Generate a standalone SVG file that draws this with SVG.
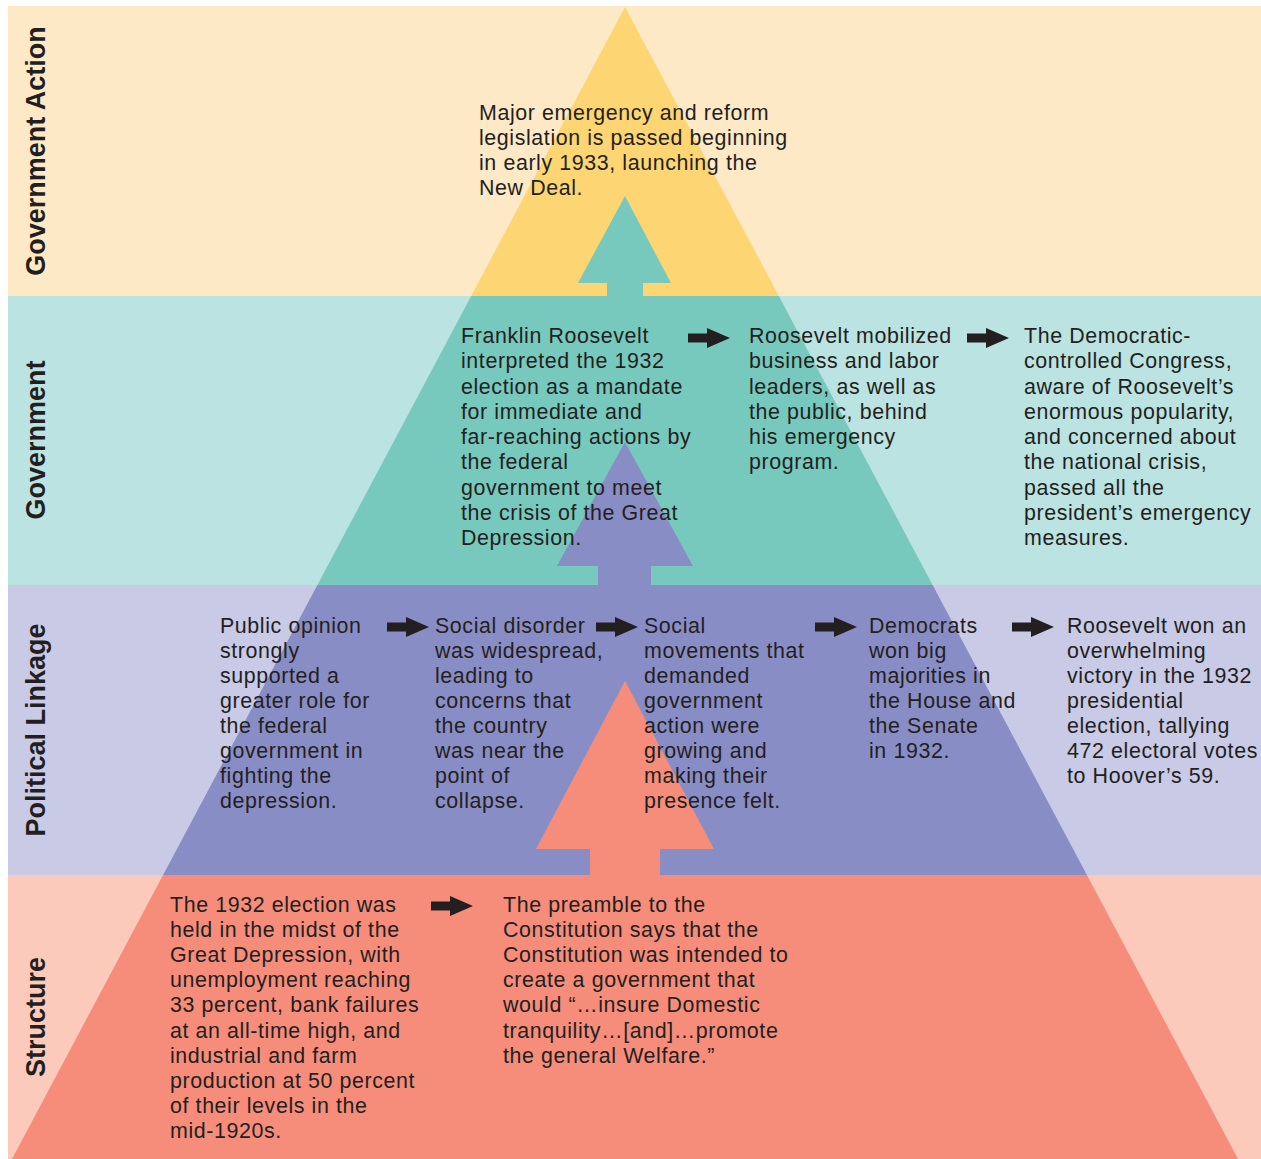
<svg xmlns="http://www.w3.org/2000/svg" width="1261" height="1159" viewBox="0 0 1261 1159">
  <style>
    .body { font-family: "Liberation Sans", Arial, sans-serif; font-size: 21.4px; letter-spacing: 0.6px; fill: #231F20; }
    .band-label { font-family: "Liberation Sans", Arial, sans-serif; font-size: 27px; font-weight: bold; fill: #231F20; text-anchor: middle; }
  </style>
  <defs>
    <!-- small black flow arrow, origin at its left-middle point -->
    <path id="flow-arrow" d="M0,-4.5 H19 V-10 L42,0 L19,10 V4.5 H0 Z" fill="#231F20"/>
  </defs>

  <rect x="0" y="0" width="1261" height="1159" fill="#FFFFFF"/>

  <!-- background bands -->
  <g id="bands">
    <rect x="8" y="6" width="1253" height="290" fill="#FDE9C6"/>
    <rect x="8" y="296" width="1253" height="289" fill="#BBE3E1"/>
    <rect x="8" y="585" width="1253" height="290" fill="#C8CAE6"/>
    <rect x="8" y="875" width="1253" height="284" fill="#FBCABB"/>
  </g>

  <!-- pyramid, one slice per band -->
  <g id="pyramid">
    <polygon points="625,7 778.8,296 471.2,296" fill="#FDD673"/>
    <polygon points="471.2,296 778.8,296 932.6,585 317.4,585" fill="#77C9BE"/>
    <polygon points="317.4,585 932.6,585 1086.9,875 163.1,875" fill="#898DC5"/>
    <polygon points="163.1,875 1086.9,875 1238,1159 12,1159" fill="#F68D7B"/>
  </g>

  <!-- band titles -->
  <g id="label-government-action"><text class="band-label" transform="translate(45,151) rotate(-90)">Government Action</text></g>
  <g id="label-government"><text class="band-label" transform="translate(45,440) rotate(-90)">Government</text></g>
  <g id="label-political-linkage"><text class="band-label" transform="translate(45,730) rotate(-90)">Political Linkage</text></g>
  <g id="label-structure"><text class="band-label" transform="translate(45,1017) rotate(-90)">Structure</text></g>

  <!-- connectors -->
  <g id="connectors">
    <!-- upward arrows between levels -->
    <polygon points="625,196 671,283 643,283 643,296 607,296 607,283 578,283" fill="#77C9BE"/>
    <polygon points="625,442 693,566 651,566 651,585 598,585 598,566 557,566" fill="#898DC5"/>
    <polygon points="625,681 714,849 660,849 660,875 590,875 590,849 536,849" fill="#F68D7B"/>
    <!-- sideways flow arrows -->
    <use href="#flow-arrow" x="688" y="338"/>
    <use href="#flow-arrow" x="967" y="338"/>
    <use href="#flow-arrow" x="387" y="627"/>
    <use href="#flow-arrow" x="596" y="627"/>
    <use href="#flow-arrow" x="815" y="627"/>
    <use href="#flow-arrow" x="1012" y="627"/>
    <use href="#flow-arrow" x="431" y="906"/>
  </g>

  <!-- Government Action -->
  <g id="node-new-deal">
    <text class="body" x="479" y="120">
      <tspan x="479" dy="0">Major emergency and reform</tspan>
      <tspan x="479" dy="25">legislation is passed beginning</tspan>
      <tspan x="479" dy="25">in early 1933, launching the</tspan>
      <tspan x="479" dy="25">New Deal.</tspan>
    </text>
  </g>

  <!-- Government -->
  <g id="node-mandate">
    <text class="body" x="461" y="343">
      <tspan x="461" dy="0">Franklin Roosevelt</tspan>
      <tspan x="461" dy="25.25">interpreted the 1932</tspan>
      <tspan x="461" dy="25.25">election as a mandate</tspan>
      <tspan x="461" dy="25.25">for immediate and</tspan>
      <tspan x="461" dy="25.25">far-reaching actions by</tspan>
      <tspan x="461" dy="25.25">the federal</tspan>
      <tspan x="461" dy="25.25">government to meet</tspan>
      <tspan x="461" dy="25.25">the crisis of the Great</tspan>
      <tspan x="461" dy="25.25">Depression.</tspan>
    </text>
  </g>
  <g id="node-mobilized">
    <text class="body" x="749" y="343">
      <tspan x="749" dy="0">Roosevelt mobilized</tspan>
      <tspan x="749" dy="25.25">business and labor</tspan>
      <tspan x="749" dy="25.25">leaders, as well as</tspan>
      <tspan x="749" dy="25.25">the public, behind</tspan>
      <tspan x="749" dy="25.25">his emergency</tspan>
      <tspan x="749" dy="25.25">program.</tspan>
    </text>
  </g>
  <g id="node-congress">
    <text class="body" x="1024" y="343">
      <tspan x="1024" dy="0">The Democratic-</tspan>
      <tspan x="1024" dy="25.25">controlled Congress,</tspan>
      <tspan x="1024" dy="25.25">aware of Roosevelt’s</tspan>
      <tspan x="1024" dy="25.25">enormous popularity,</tspan>
      <tspan x="1024" dy="25.25">and concerned about</tspan>
      <tspan x="1024" dy="25.25">the national crisis,</tspan>
      <tspan x="1024" dy="25.25">passed all the</tspan>
      <tspan x="1024" dy="25.25">president’s emergency</tspan>
      <tspan x="1024" dy="25.25">measures.</tspan>
    </text>
  </g>

  <!-- Political Linkage -->
  <g id="node-public-opinion">
    <text class="body" x="220" y="633">
      <tspan x="220" dy="0">Public opinion</tspan>
      <tspan x="220" dy="25">strongly</tspan>
      <tspan x="220" dy="25">supported a</tspan>
      <tspan x="220" dy="25">greater role for</tspan>
      <tspan x="220" dy="25">the federal</tspan>
      <tspan x="220" dy="25">government in</tspan>
      <tspan x="220" dy="25">fighting the</tspan>
      <tspan x="220" dy="25">depression.</tspan>
    </text>
  </g>
  <g id="node-social-disorder">
    <text class="body" x="435" y="633">
      <tspan x="435" dy="0">Social disorder</tspan>
      <tspan x="435" dy="25">was widespread,</tspan>
      <tspan x="435" dy="25">leading to</tspan>
      <tspan x="435" dy="25">concerns that</tspan>
      <tspan x="435" dy="25">the country</tspan>
      <tspan x="435" dy="25">was near the</tspan>
      <tspan x="435" dy="25">point of</tspan>
      <tspan x="435" dy="25">collapse.</tspan>
    </text>
  </g>
  <g id="node-social-movements">
    <text class="body" x="644" y="633">
      <tspan x="644" dy="0">Social</tspan>
      <tspan x="644" dy="25">movements that</tspan>
      <tspan x="644" dy="25">demanded</tspan>
      <tspan x="644" dy="25">government</tspan>
      <tspan x="644" dy="25">action were</tspan>
      <tspan x="644" dy="25">growing and</tspan>
      <tspan x="644" dy="25">making their</tspan>
      <tspan x="644" dy="25">presence felt.</tspan>
    </text>
  </g>
  <g id="node-democrats">
    <text class="body" x="869" y="633">
      <tspan x="869" dy="0">Democrats</tspan>
      <tspan x="869" dy="25">won big</tspan>
      <tspan x="869" dy="25">majorities in</tspan>
      <tspan x="869" dy="25">the House and</tspan>
      <tspan x="869" dy="25">the Senate</tspan>
      <tspan x="869" dy="25">in 1932.</tspan>
    </text>
  </g>
  <g id="node-election-victory">
    <text class="body" x="1067" y="633">
      <tspan x="1067" dy="0">Roosevelt won an</tspan>
      <tspan x="1067" dy="25">overwhelming</tspan>
      <tspan x="1067" dy="25">victory in the 1932</tspan>
      <tspan x="1067" dy="25">presidential</tspan>
      <tspan x="1067" dy="25">election, tallying</tspan>
      <tspan x="1067" dy="25">472 electoral votes</tspan>
      <tspan x="1067" dy="25">to Hoover’s 59.</tspan>
    </text>
  </g>

  <!-- Structure -->
  <g id="node-depression">
    <text class="body" x="170" y="912">
      <tspan x="170" dy="0">The 1932 election was</tspan>
      <tspan x="170" dy="25.1">held in the midst of the</tspan>
      <tspan x="170" dy="25.1">Great Depression, with</tspan>
      <tspan x="170" dy="25.1">unemployment reaching</tspan>
      <tspan x="170" dy="25.1">33 percent, bank failures</tspan>
      <tspan x="170" dy="25.1">at an all-time high, and</tspan>
      <tspan x="170" dy="25.1">industrial and farm</tspan>
      <tspan x="170" dy="25.1">production at 50 percent</tspan>
      <tspan x="170" dy="25.1">of their levels in the</tspan>
      <tspan x="170" dy="25.1">mid-1920s.</tspan>
    </text>
  </g>
  <g id="node-preamble">
    <text class="body" x="503" y="912">
      <tspan x="503" dy="0">The preamble to the</tspan>
      <tspan x="503" dy="25.1">Constitution says that the</tspan>
      <tspan x="503" dy="25.1">Constitution was intended to</tspan>
      <tspan x="503" dy="25.1">create a government that</tspan>
      <tspan x="503" dy="25.1">would “…insure Domestic</tspan>
      <tspan x="503" dy="25.1">tranquility…[and]…promote</tspan>
      <tspan x="503" dy="25.1">the general Welfare.”</tspan>
    </text>
  </g>
</svg>
